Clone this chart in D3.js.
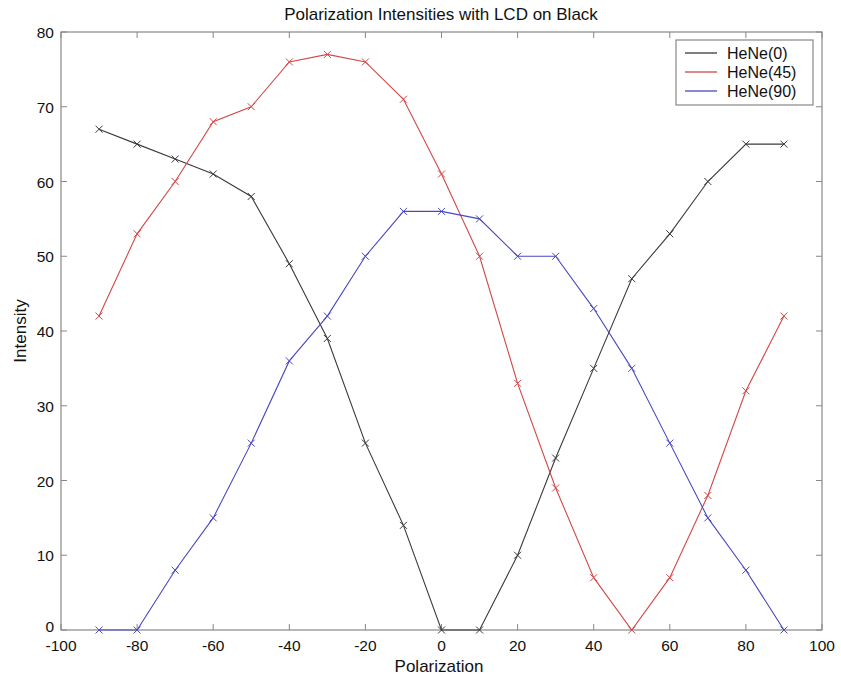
<!DOCTYPE html>
<html><head><meta charset="utf-8">
<script src="https://cdn.jsdelivr.net/npm/d3@7"></script>
<style>body{margin:0;background:#fff;}text{font-family:"Liberation Sans",Arial,sans-serif;}</style>
</head><body>
<script>
const polarization = [-90,-80,-70,-60,-50,-40,-30,-20,-10,0,10,20,30,40,50,60,70,80,90];
const heNe0  = [67,65,63,61,58,49,39,25,14,0,0,10,23,35,47,53,60,65,65];
const heNe45 = [42,53,60,68,70,76,77,76,71,61,50,33,19,7,0,7,18,32,42];
const heNe90 = [0,0,8,15,25,36,42,50,56,56,55,50,50,43,35,25,15,8,0];
const seriesNames = ["HeNe(0)","HeNe(45)","HeNe(90)"];
const seriesColors = ["#3a3a3a","#d04848","#4848c0"];
const xTicks = [-100,-80,-60,-40,-20,0,20,40,60,80,100];
const yTicks = [0,10,20,30,40,50,60,70,80];

const W=841,H=683;
const L=61,R=822,T=32,B=630;
const svg=d3.select("body").append("svg").attr("width",W).attr("height",H);
const x=d3.scaleLinear().domain([-100,100]).range([L,R]);
const y=d3.scaleLinear().domain([0,80]).range([B,T]);
const axisColor="#888";

svg.append("rect").attr("x",L).attr("y",T).attr("width",R-L).attr("height",B-T)
  .attr("fill","none").attr("stroke",axisColor).attr("stroke-width",1.2);

const tl=6;
const g=svg.append("g");
xTicks.forEach(v=>{
  g.append("line").attr("x1",x(v)).attr("x2",x(v)).attr("y1",B).attr("y2",B-tl).attr("stroke",axisColor);
  g.append("line").attr("x1",x(v)).attr("x2",x(v)).attr("y1",T).attr("y2",T+tl).attr("stroke",axisColor);
  g.append("text").attr("x",x(v)).attr("y",B+21).attr("text-anchor","middle")
    .attr("font-size",15.5).attr("fill","#111").text(v);
});
yTicks.forEach(v=>{
  g.append("line").attr("x1",L).attr("x2",L+tl).attr("y1",y(v)).attr("y2",y(v)).attr("stroke",axisColor);
  g.append("line").attr("x1",R).attr("x2",R-tl).attr("y1",y(v)).attr("y2",y(v)).attr("stroke",axisColor);
  g.append("text").attr("x",L-7).attr("y",y(v)+(v===0?2:6)).attr("text-anchor","end")
    .attr("font-size",15.5).attr("fill","#111").text(v);
});

svg.append("text").attr("x",441).attr("y",20).attr("text-anchor","middle")
  .attr("font-size",17).attr("fill","#111").text("Polarization Intensities with LCD on Black");
svg.append("text").attr("x",439).attr("y",672).attr("text-anchor","middle")
  .attr("font-size",17).attr("fill","#111").text("Polarization");
svg.append("text").attr("transform",`translate(26,${(T+B)/2}) rotate(-90)`).attr("text-anchor","middle")
  .attr("font-size",17).attr("fill","#111").text("Intensity");

const data=[heNe0,heNe45,heNe90];
const line=d3.line().x((d,i)=>x(polarization[i])).y(d=>y(d));
data.forEach((s,k)=>{
  const c=seriesColors[k];
  svg.append("path").datum(s).attr("d",line).attr("fill","none").attr("stroke",c).attr("stroke-width",1.1);
  const m=3.5;
  svg.append("g").selectAll("path").data(s).join("path")
    .attr("d",(d,i)=>{const px=x(polarization[i]),py=y(d);
      return `M${px-m},${py-m}L${px+m},${py+m}M${px-m},${py+m}L${px+m},${py-m}`;})
    .attr("stroke",c).attr("stroke-width",1);
});

const lx=676,ly=40,lw=137,lh=65;
svg.append("rect").attr("x",lx).attr("y",ly).attr("width",lw).attr("height",lh)
  .attr("fill","#fff").attr("stroke",axisColor).attr("stroke-width",1.2);
seriesNames.forEach((n,k)=>{
  const yy=ly+13+k*19;
  svg.append("line").attr("x1",lx+9).attr("x2",lx+41).attr("y1",yy).attr("y2",yy)
    .attr("stroke",seriesColors[k]).attr("stroke-width",1.3);
  svg.append("text").attr("x",lx+51).attr("y",yy+6).attr("font-size",16).attr("fill","#111").text(n);
});
</script>
</body></html>
